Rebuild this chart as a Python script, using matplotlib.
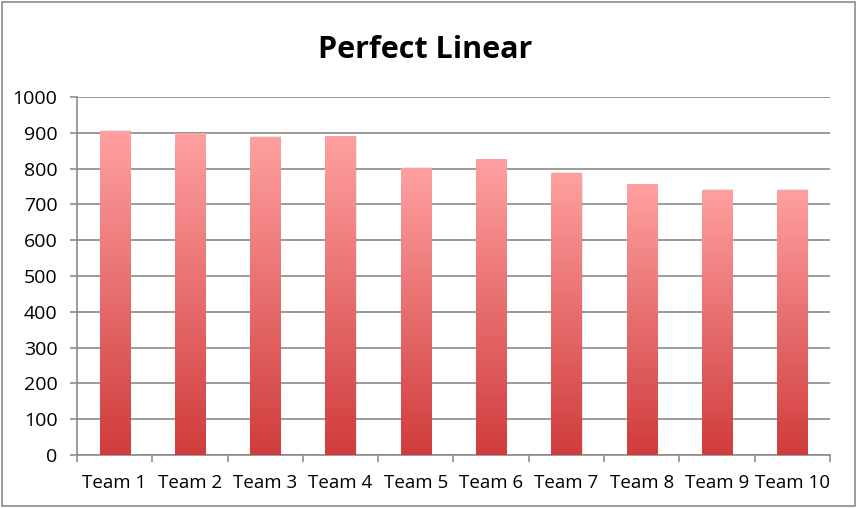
import numpy as np
import matplotlib as mpl
mpl.use("Agg")
import matplotlib.pyplot as plt
from matplotlib.colors import LinearSegmentedColormap
from matplotlib.patches import Rectangle

teams = ["Team 1", "Team 2", "Team 3", "Team 4", "Team 5",
         "Team 6", "Team 7", "Team 8", "Team 9", "Team 10"]
scores = [904, 899, 888, 889, 801, 824, 787, 755, 739, 739]
yticks = [0, 100, 200, 300, 400, 500, 600, 700, 800, 900, 1000]

plt.rcParams['font.family'] = ['Open Sans', 'DejaVu Sans']

fig = plt.figure(figsize=(8.58, 5.08), dpi=100)
ax = fig.add_axes([0.0897, 0.1043, 0.8776, 0.7048])

# outer frame of the chart area
fig.patches.append(Rectangle((0.002, 0.004), 0.995, 0.993, transform=fig.transFigure,
                             fill=False, edgecolor='#8c8c8c', lw=1.2))

grad = LinearSegmentedColormap.from_list("bar", ["#d03c3c", "#ffa0a0"])
width = 0.4
x = np.arange(len(teams))
bars = ax.bar(x, scores, width=width, color='none', zorder=3)
g = np.linspace(0, 1, 256).reshape(-1, 1)
for b in bars:
    x0, w, h = b.get_x(), b.get_width(), b.get_height()
    # faint shadow
    ax.add_patch(Rectangle((x0 + 0.015, 0), w, h + 3, color='#000000', alpha=0.08,
                           lw=0, zorder=2))
    ax.imshow(g, cmap=grad, origin='lower', aspect='auto',
              extent=(x0, x0 + w, 0, h), zorder=3)

ax.set_xlim(-0.5, len(teams) - 0.5)
ax.set_ylim(0, 1000)
ax.set_yticks(yticks)
ax.set_xticks(x)
ax.set_xticklabels(teams, fontsize=13.5)
ax.set_xticks(np.arange(-0.5, len(teams)), minor=True)
ax.tick_params(axis='x', which='major', length=0, pad=14)
ax.tick_params(axis='x', which='minor', length=5, color='#8c8c8c', width=1.2)
ax.tick_params(axis='y', labelsize=14, length=5, color='#8c8c8c', width=1.2, pad=9)

ax.grid(axis='y', color='#8a8a8a', lw=1.2, zorder=1)
ax.set_axisbelow(True)
for s in ['top', 'right']:
    ax.spines[s].set_visible(False)
for s in ['left', 'bottom']:
    ax.spines[s].set_color('#8c8c8c')
    ax.spines[s].set_linewidth(1.2)

fig.text(0.496, 0.902, "Perfect Linear", fontsize=22, fontweight='bold',
         ha='center', va='center')

fig.savefig("out.png", dpi=100)
